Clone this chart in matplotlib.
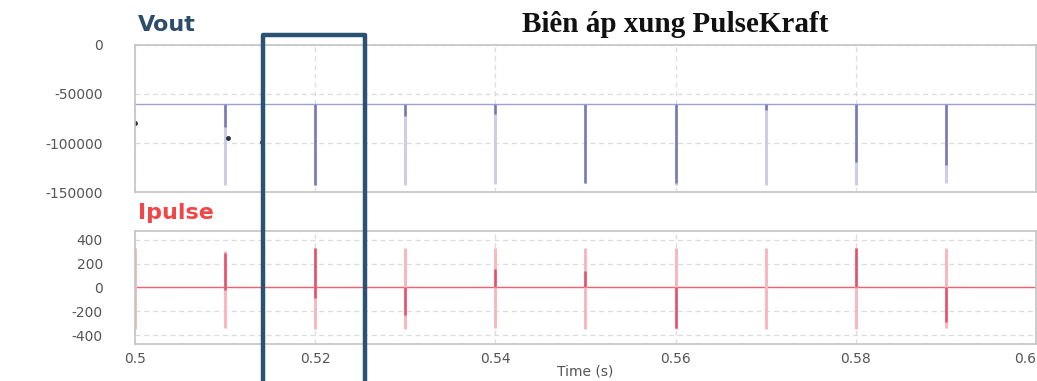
import numpy as np
import matplotlib
matplotlib.use("Agg")
import matplotlib.pyplot as plt
from matplotlib.transforms import blended_transform_factory

plt.rcParams['axes.unicode_minus'] = False

# pulse instants (s)
pulse_t = [0.51, 0.52, 0.53, 0.54, 0.55, 0.56, 0.57, 0.58, 0.59]

# Vout: flat level, full pulse depth, darker core depth
v_base = -60000
v_tip = [-143000, -143000, -143000, -142000, -141000, -143000, -143000, -143000, -141000]
v_core = [-84000, -143000, -72000, -70000, -141000, -141000, -66000, -119000, -122000]
v_dot_t = [0.5, 0.5103, 0.5141]
v_dot = [-80000, -95000, -99000]

# Ipulse: spike extent and darker core segment (includes the edge pulse at 0.5)
i_t = [0.50, 0.51, 0.52, 0.53, 0.54, 0.55, 0.56, 0.57, 0.58, 0.59]
i_hi = [330, 310, 330, 330, 333, 330, 330, 330, 330, 330]
i_lo = [-345, -340, -345, -345, -342, -345, -345, -345, -345, -340]
i_core_hi = [0, 290, 330, 0, 158, 142, 0, 0, 330, 0]
i_core_lo = [0, -20, -90, -233, 0, 0, -340, 0, 0, -290]

x_ticks = [0.5, 0.52, 0.54, 0.56, 0.58, 0.6]
x_labels = ['0.5', '0.52', '0.54', '0.56', '0.58', '0.6']
v_ticks = [0, -50000, -100000, -150000]
i_ticks = [400, 200, 0, -200, -400]
window = (0.5142, 0.5255)

fig = plt.figure(figsize=(10.37, 3.81), dpi=100)
ax1 = fig.add_axes([0.130, 0.496, 0.869, 0.386])
ax2 = fig.add_axes([0.130, 0.097, 0.869, 0.297])

grid_kw = dict(color='#dcdcdc', linestyle=(0, (4, 3)), linewidth=0.9)
for ax in (ax1, ax2):
    ax.set_xlim(0.5, 0.6)
    ax.set_xticks(x_ticks)
    ax.grid(True, **grid_kw)
    ax.set_axisbelow(True)
    for s in ax.spines.values():
        s.set_color('#c4c4c4')
        s.set_linewidth(1.2)
    ax.tick_params(length=0, colors='#555555', labelsize=10, pad=23)
    ax.tick_params(axis='x', pad=6)

# Vout
ax1.set_ylim(-150000, 0)
ax1.set_yticks(v_ticks)
ax1.set_yticklabels([str(v) for v in v_ticks])
ax1.tick_params(axis='x', labelbottom=False)
ax1.plot([0.5, 0.6], [v_base, v_base], color='#a0a0d0', lw=1.0)
ax1.vlines(pulse_t, v_base, v_tip, color='#cdcdea', lw=2.2)
ax1.vlines(pulse_t, v_base, v_core, color='#7878b4', lw=1.8)
ax1.plot(v_dot_t, v_dot, ls='none', marker='o', ms=2.5, color='#303040')

# Ipulse
ax2.set_ylim(-475, 475)
ax2.set_yticks(i_ticks)
ax2.set_xticklabels(x_labels)
ax2.get_xticklabels()[-1].set_ha('right')
ax2.plot([0.5, 0.6], [0, 0], color='#f06070', lw=1.0)
ax2.vlines(i_t, i_lo, i_hi, color='#f7b8c0', lw=2.2)
ax2.vlines(i_t, i_core_lo, i_core_hi, color='#e8506a', lw=1.8)
ax2.set_xlabel('Time (s)', color='#555555', fontsize=10, labelpad=-1)

fig.text(0.133, 0.935, 'Vout', color='#2e4c6c', fontsize=16, fontweight='bold', va='center')
fig.text(0.133, 0.441, 'Ipulse', color='#f04848', fontsize=16, fontweight='bold', va='center')
fig.text(0.651, 0.935, 'Biên áp xung PulseKraft', family='Liberation Serif',
         fontsize=21, fontweight='bold', color='#111111', ha='center', va='center')

# highlighted window around the 0.52 s pulse
tr = blended_transform_factory(ax2.transData, fig.transFigure)
ax2.plot([window[0], window[0], window[1], window[1]], [-0.05, 0.908, 0.908, -0.05],
         transform=tr, color='#2c5272', lw=3.2, solid_joinstyle='round', clip_on=False, zorder=10)

fig.savefig('out.png', dpi=100)
